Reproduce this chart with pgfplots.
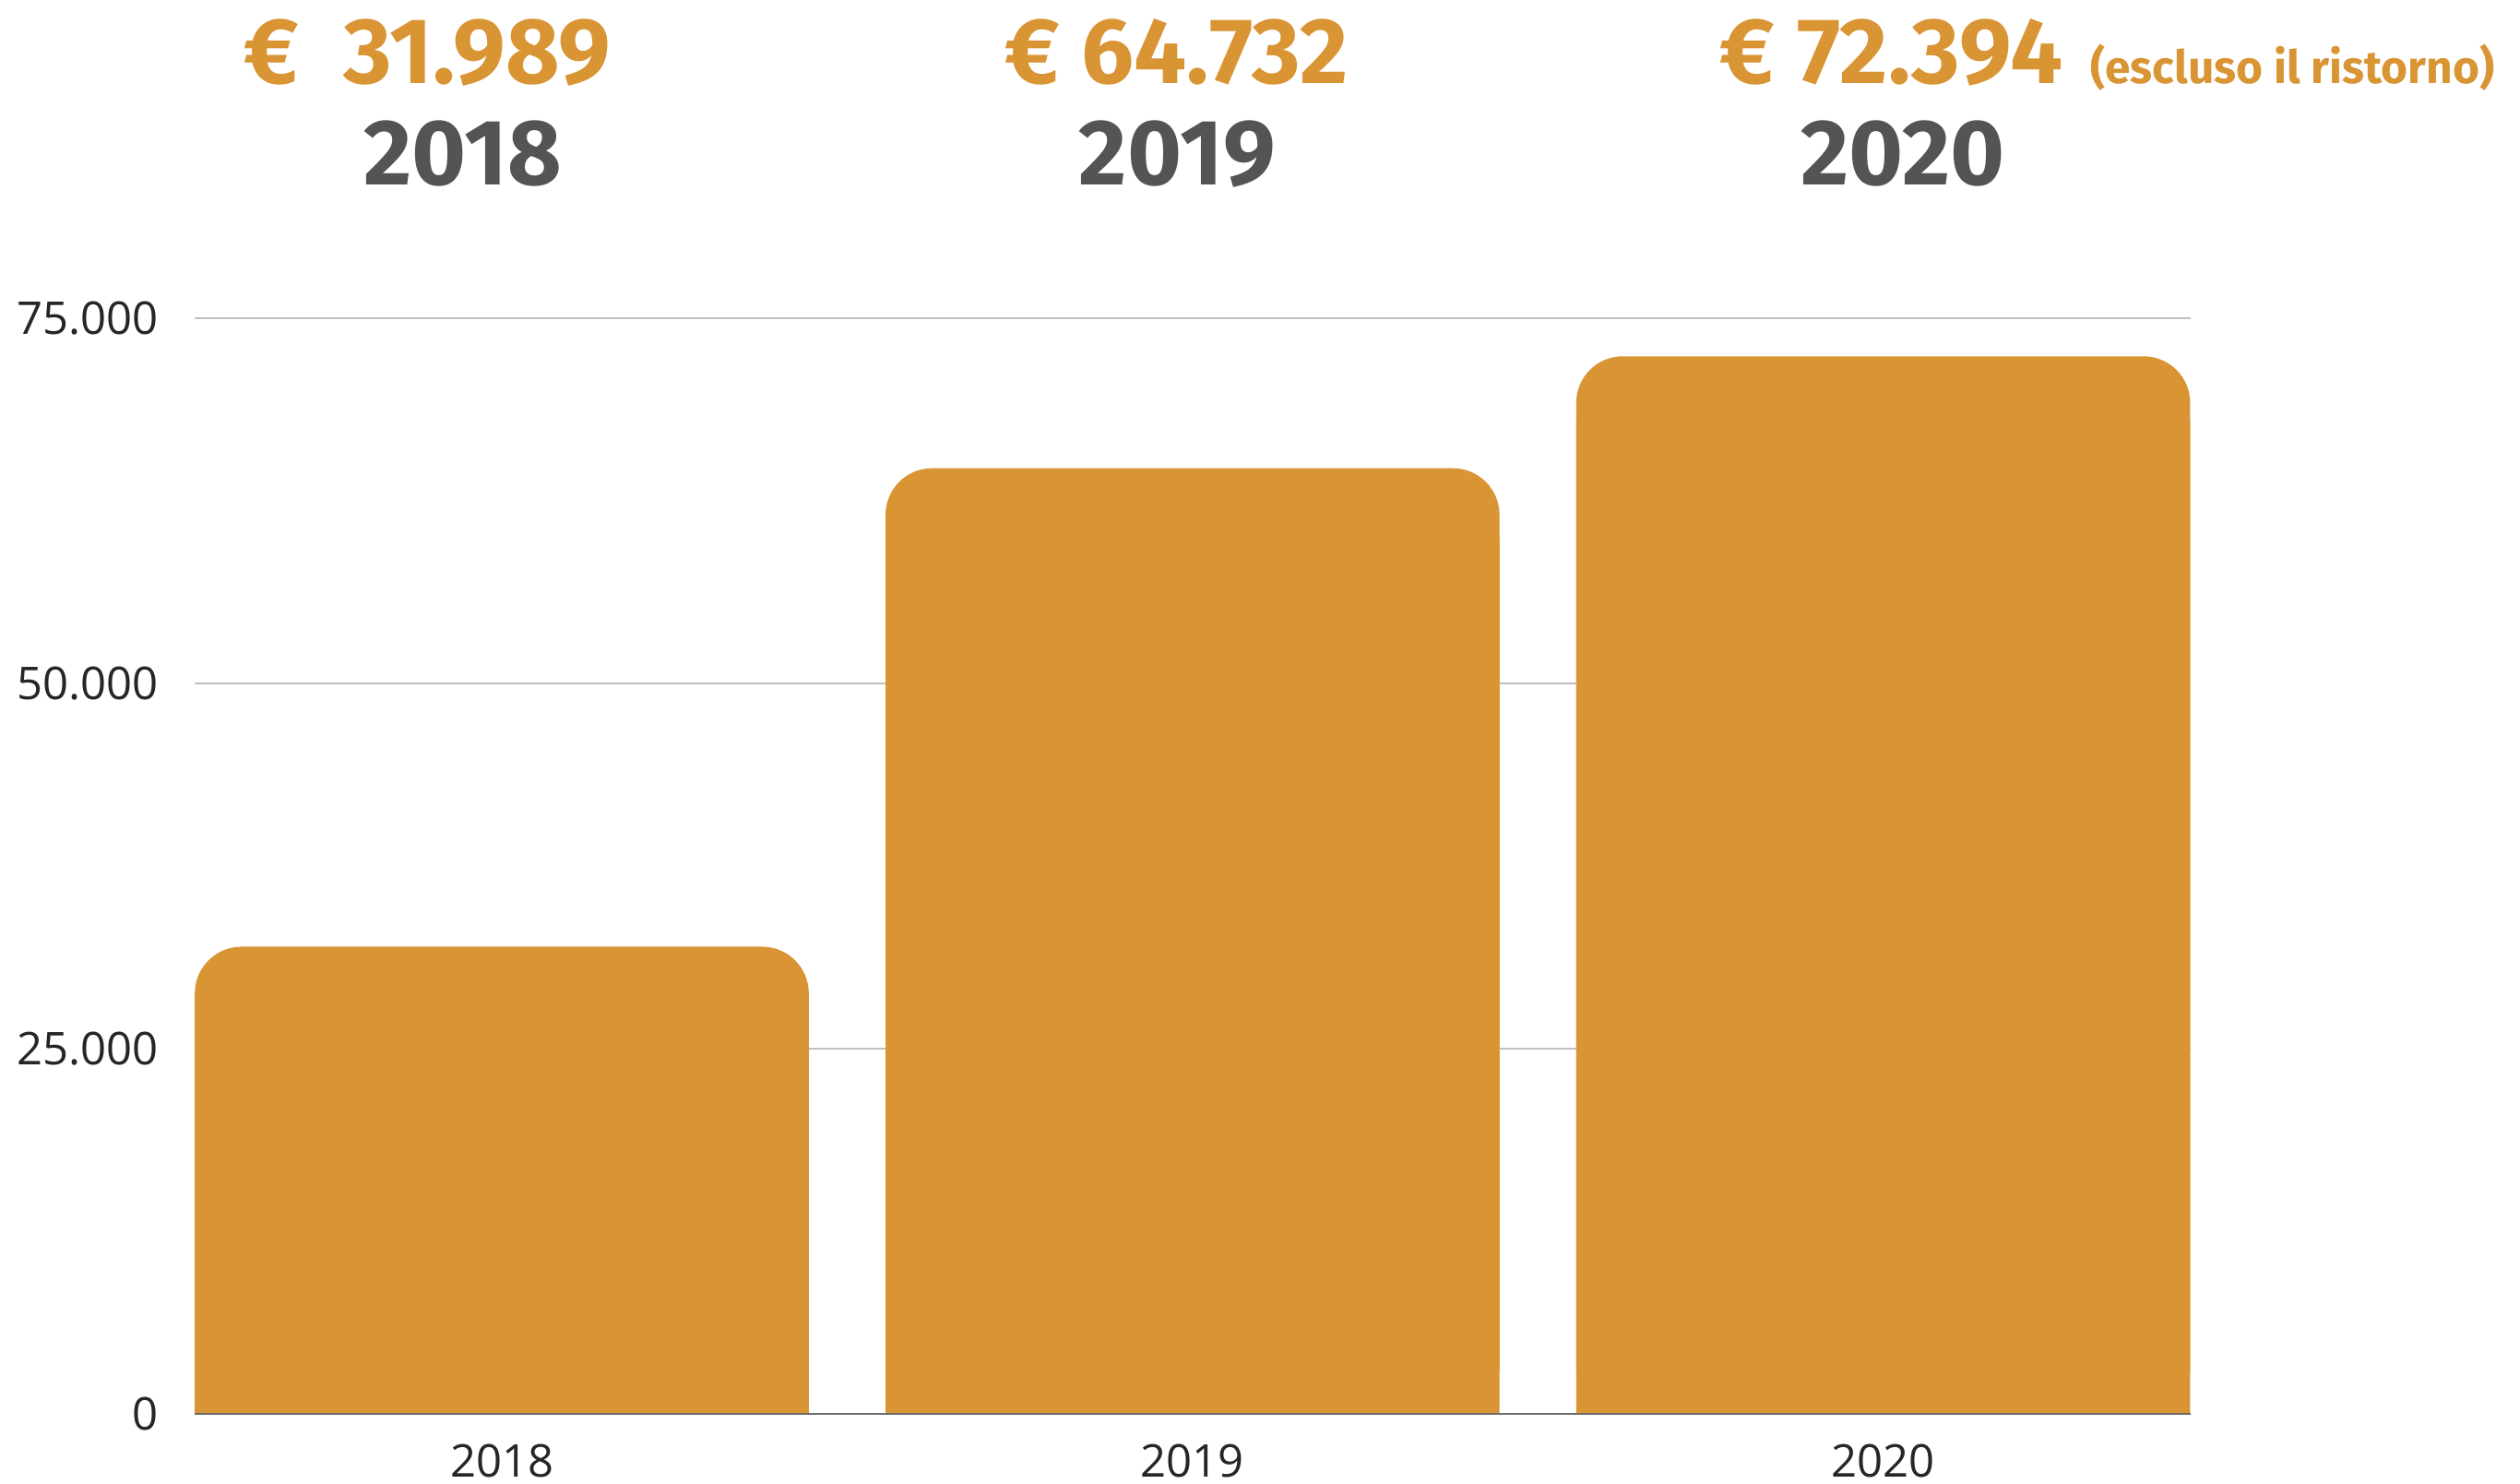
\documentclass[border=0pt]{standalone}
\usepackage{pgfplots}
\pgfplotsset{compat=1.18}
\usepackage{fontspec}
\setmainfont{Open Sans}
\newfontfamily\titlefont{Fira Sans}
\definecolor{barorange}{HTML}{D99434}
\definecolor{yeargrey}{HTML}{545454}
\definecolor{gridgrey}{HTML}{C0C0C0}
\definecolor{basegrey}{HTML}{6E6E6E}
\begin{document}
\begin{tikzpicture}[x=1mm,y=1mm]
\path[use as bounding box] (-12.1,-4.3) rectangle (144.7,88);
\begin{axis}[
  at={(0,0)}, anchor=south west,
  scale only axis, width=124.2mm, height=68.2mm,
  xmin=-0.445, xmax=2.445, ymin=0, ymax=75000,
  ybar, bar width=38.2mm, bar shift=0pt,
  axis line style={draw=none},
  major tick length=0pt,
  xtick={0,1,2}, xticklabels={2018,2019,2020},
  ytick={0,25000,50000,75000},
  ymajorgrids, grid style={gridgrey, line width=0.3pt},
  scaled y ticks=false,
  /pgf/number format/.cd, fixed, 1000 sep={.}, assume math mode=true,
  /pgfplots/.cd,
  ticklabel style={font=\fontsize{8}{9.6}\selectfont, text=black!85},
  yticklabel style={anchor=east, inner sep=0pt, xshift=-2.2mm},
  xticklabel style={anchor=north, inner sep=0pt, yshift=-1.8mm},
]
\addplot[fill=barorange, draw=none, rounded corners=2.9mm] coordinates {(0,31989) (1,64732) (2,72394)};
\addplot[fill=barorange, draw=none] coordinates {(0,28000) (1,60000) (2,68000)};
\draw[basegrey, line width=0.4pt] (axis cs:-0.445,0) -- (axis cs:2.445,0);
\end{axis}
\node[anchor=base, text=barorange, inner sep=0pt, font=\titlefont\bfseries\fontsize{16.5}{18}\selectfont] at (14.5,82.8) {€\ \ 31.989};
\node[anchor=base, text=yeargrey, inner sep=0pt, font=\titlefont\bfseries\fontsize{16.5}{18}\selectfont] at (16.7,76.5) {2018};
\node[anchor=base, text=barorange, inner sep=0pt, font=\titlefont\bfseries\fontsize{16.5}{18}\selectfont] at (61.1,82.8) {€ 64.732};
\node[anchor=base, text=yeargrey, inner sep=0pt, font=\titlefont\bfseries\fontsize{16.5}{18}\selectfont] at (61.15,76.5) {2019};
\node[anchor=base, text=barorange, inner sep=0pt, font=\titlefont\bfseries\fontsize{16.5}{18}\selectfont] at (105.6,82.8) {€ 72.394};
\node[anchor=base west, text=barorange, inner sep=0pt, font=\titlefont\bfseries\fontsize{8.1}{9.5}\selectfont] at (117.9,82.8) {(escluso il ristorno)};
\node[anchor=base, text=yeargrey, inner sep=0pt, font=\titlefont\bfseries\fontsize{16.5}{18}\selectfont] at (106.3,76.5) {2020};
\end{tikzpicture}
\end{document}
